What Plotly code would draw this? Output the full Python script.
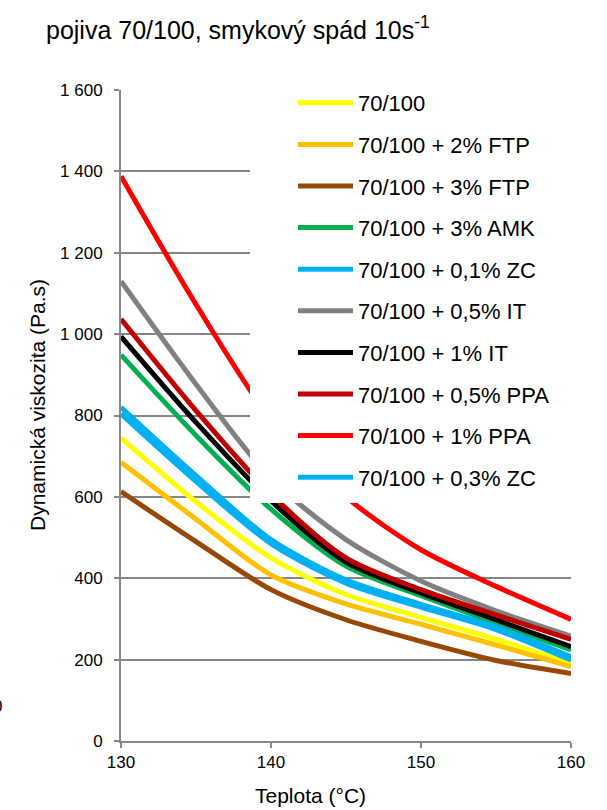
import plotly.graph_objects as go

# ---- data ----
temps = [130, 135, 140, 145, 150, 155, 160]

series_names = [
    "70/100",
    "70/100 + 2% FTP",
    "70/100 + 3% FTP",
    "70/100 + 3% AMK",
    "70/100 + 0,1% ZC",
    "70/100 + 0,5% IT",
    "70/100 + 1% IT",
    "70/100 + 0,5% PPA",
    "70/100 + 1% PPA",
    "70/100 + 0,3% ZC",
]

v_70_100 = [745, 588, 450, 360, 304, 250, 191]
v_2_ftp = [685, 545, 408, 337, 287, 236, 183]
v_3_ftp = [613, 490, 372, 298, 245, 198, 166]
v_3_amk = [949, 751, 570, 430, 357, 290, 224]
v_01_zc = [820, 652, 495, 396, 336, 280, 207]
v_05_it = [1130, 877, 645, 495, 393, 320, 258]
v_1_it = [994, 783, 590, 440, 364, 298, 232]
v_05_ppa = [1037, 812, 607, 450, 372, 310, 250]
v_1_ppa = [1388, 1073, 790, 600, 470, 380, 299]
v_03_zc = [804, 638, 485, 388, 329, 274, 199]

series_values = [v_70_100, v_2_ftp, v_3_ftp, v_3_amk, v_01_zc,
                 v_05_it, v_1_it, v_05_ppa, v_1_ppa, v_03_zc]

series_colors = ["#FFFF00", "#FFC000", "#974706", "#00B050", "#00B0F0",
                 "#808080", "#000000", "#C00000", "#FF0000", "#00B0F0"]

y_tickvals = [0, 200, 400, 600, 800, 1000, 1200, 1400, 1600]
y_ticktext = ["0", "200", "400", "600", "800", "1 000", "1 200", "1 400", "1 600"]
x_tickvals = [130, 140, 150, 160]

title_text = "pojiva 70/100, smykový spád 10s<sup>-1</sup>"
x_title = "Teplota (°C)"
y_title = "Dynamická viskozita (Pa.s)"

# ---- layout geometry (pixels) ----
W, H = 607, 810
L, R, T, B = 121, 571, 90, 741
PW, PH = R - L, B - T


def px(xp):
    return (xp - L) / PW


def py(yp):
    return (B - yp) / PH


FONT = "Liberation Sans, Arial, sans-serif"
GRID = "#868686"

fig = go.Figure()
for i, (name, vals, col) in enumerate(zip(series_names, series_values, series_colors)):
    fig.add_trace(go.Scatter(
        x=temps, y=vals, name=name, mode="lines",
        line=dict(color=col, width=5, shape="spline", smoothing=0.8),
        legendgroup="g%d" % i,
    ))

fig.update_layout(
    width=W, height=H,
    margin=dict(l=L, r=W - R, t=T, b=H - B),
    paper_bgcolor="white", plot_bgcolor="white",
    font=dict(family=FONT, color="#000000", size=17),
    showlegend=True,
    legend=dict(
        x=px(293), y=py(82), xanchor="left", yanchor="top",
        bgcolor="rgba(0,0,0,0)", borderwidth=0,
        font=dict(size=22, family=FONT, color="#000000"),
        itemwidth=55, tracegroupgap=10, maxheight=700,
    ),
    shapes=[dict(type="rect", xref="paper", yref="paper",
                 x0=px(250), x1=1.0, y0=py(503), y1=py(84),
                 fillcolor="white", line=dict(width=0), layer="above")],
    xaxis=dict(
        range=[130, 160], tickvals=x_tickvals, showgrid=False, zeroline=False,
        showline=True, linecolor=GRID, linewidth=2,
        ticks="outside", ticklen=5, tickcolor=GRID, tickwidth=1.5,
        tickfont=dict(size=17, family=FONT, color="#000000"),
    ),
    yaxis=dict(
        range=[0, 1600], tickvals=y_tickvals, ticktext=y_ticktext,
        showgrid=True, gridcolor=GRID, gridwidth=1.5, zeroline=False,
        showline=True, linecolor=GRID, linewidth=2,
        ticks="outside", ticklen=5, tickcolor=GRID, tickwidth=1.5,
        ticklabelstandoff=8,
        tickfont=dict(size=17, family=FONT, color="#000000"),
    ),
    annotations=[
        dict(text=title_text, xref="paper", yref="paper", x=px(44), y=py(28),
             xanchor="left", yanchor="middle", showarrow=False,
             font=dict(size=25, family=FONT, color="#000000")),
        dict(text=x_title, xref="paper", yref="paper", x=px(310), y=py(795),
             xanchor="center", yanchor="middle", showarrow=False,
             font=dict(size=21, family=FONT, color="#000000")),
        dict(text=y_title, xref="paper", yref="paper", x=px(37), y=py(405),
             xanchor="center", yanchor="middle", showarrow=False, textangle=-90,
             font=dict(size=21, family=FONT, color="#000000")),
        dict(text="0", xref="paper", yref="paper", x=px(4), y=py(706),
             xanchor="right", yanchor="middle", showarrow=False,
             font=dict(size=17, family=FONT, color="#000000")),
    ],
)

fig.write_html("out.html")
